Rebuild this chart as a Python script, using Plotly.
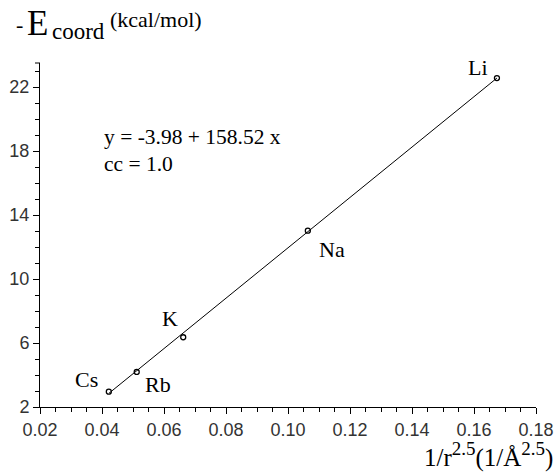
import plotly.graph_objects as go

# ---- data ----
ions = ["Cs", "Rb", "K", "Na", "Li"]
x_vals = [0.0422, 0.0512, 0.0662, 0.1064, 0.1674]
y_vals = [2.96, 4.19, 6.36, 13.02, 22.56]
fit_x = [0.0422, 0.1674]
fit_y = [2.85, 22.56]
x_ticks = [0.02, 0.04, 0.06, 0.08, 0.10, 0.12, 0.14, 0.16, 0.18]
y_ticks = [2, 6, 10, 14, 18, 22]
equation = "y = -3.98 + 158.52 x"
corr = "cc = 1.0"

W, H = 557, 472
L, R, T, B = 40, 21, 63, 65
pw, ph = W - L - R, H - T - B

def px(x):
    return (x - L) / pw

def py(y):
    return (H - B - y) / ph

serif = "Liberation Serif, Times New Roman, serif"
sans = "Liberation Sans, Arial, sans-serif"

fig = go.Figure()
fig.add_trace(go.Scatter(x=fit_x, y=fit_y, mode="lines",
                         line=dict(color="black", width=1), hoverinfo="skip",
                         showlegend=False))
fig.add_trace(go.Scatter(x=x_vals, y=y_vals, mode="markers",
                         marker=dict(symbol="circle-open", size=5, color="black",
                                     line=dict(width=1.3, color="black")),
                         showlegend=False))

offsets = {"Cs": (-22, 12), "Rb": (21, -13), "K": (-13, 19), "Na": (24, -19), "Li": (-19, 11)}
ann = []
for name, xv, yv in zip(ions, x_vals, y_vals):
    dx, dy = offsets[name]
    ann.append(dict(x=xv, y=yv, xref="x", yref="y", text=name, showarrow=False,
                    xshift=dx, yshift=dy, font=dict(family=serif, size=22, color="black")))

ann.append(dict(x=px(102), y=py(137), xref="paper", yref="paper", text=equation,
                showarrow=False, xanchor="left", yanchor="middle",
                font=dict(family=serif, size=21.5, color="black")))
ann.append(dict(x=px(102), y=py(164), xref="paper", yref="paper", text=corr,
                showarrow=False, xanchor="left", yanchor="middle",
                font=dict(family=serif, size=21.5, color="black")))

# y-axis title pieces
ann.append(dict(x=px(14), y=py(24), xref="paper", yref="paper", text="-",
                showarrow=False, xanchor="left", yanchor="middle",
                font=dict(family=serif, size=22, color="black")))
ann.append(dict(x=px(25), y=py(23), xref="paper", yref="paper", text="E",
                showarrow=False, xanchor="left", yanchor="middle",
                font=dict(family=serif, size=35, color="black")))
ann.append(dict(x=px(50), y=py(31), xref="paper", yref="paper", text="coord",
                showarrow=False, xanchor="left", yanchor="middle",
                font=dict(family=serif, size=23, color="black")))
ann.append(dict(x=px(108), y=py(19), xref="paper", yref="paper", text="(kcal/mol)",
                showarrow=False, xanchor="left", yanchor="middle",
                font=dict(family=serif, size=22, color="black")))

# x-axis title
ann.append(dict(x=px(555), y=py(455), xref="paper", yref="paper",
                text=("1/r<sup><span style='font-size:19px'>2.5</span></sup>"
                      "(1/Å<sup><span style='font-size:19px'>2.5</span></sup>)"),
                showarrow=False, xanchor="right", yanchor="middle",
                font=dict(family=serif, size=25, color="black")))

fig.update_layout(
    width=W, height=H,
    margin=dict(l=L, r=R, t=T, b=B, pad=0, autoexpand=False),
    plot_bgcolor="white", paper_bgcolor="white",
    annotations=ann,
    xaxis=dict(range=[0.02, 0.18], tickvals=x_ticks, tickformat=".2f",
               automargin=False,
               showline=True, linecolor="black", linewidth=1, mirror=False,
               ticks="outside", ticklen=6, tickcolor="black", tickwidth=1,
               showgrid=False, zeroline=False,
               minor=dict(dtick=0.005, tick0=0.02, ticks="outside", ticklen=4,
                          tickcolor="black", showgrid=False),
               tickfont=dict(family=sans, size=18, color="#333")),
    yaxis=dict(range=[2, 23.5], tickvals=y_ticks, automargin=False,
               showline=True, linecolor="black", linewidth=1, mirror=False,
               ticks="outside", ticklen=6, tickcolor="black", tickwidth=1,
               showgrid=False, zeroline=False,
               minor=dict(dtick=1, tick0=2, ticks="outside", ticklen=4,
                          tickcolor="black", showgrid=False),
               tickfont=dict(family=sans, size=18, color="#333")),
)
fig.add_shape(type="line", xref="paper", yref="paper", x0=px(35), x1=0, y0=1, y1=1,
              line=dict(color="black", width=1))

fig.write_html("out.html")
